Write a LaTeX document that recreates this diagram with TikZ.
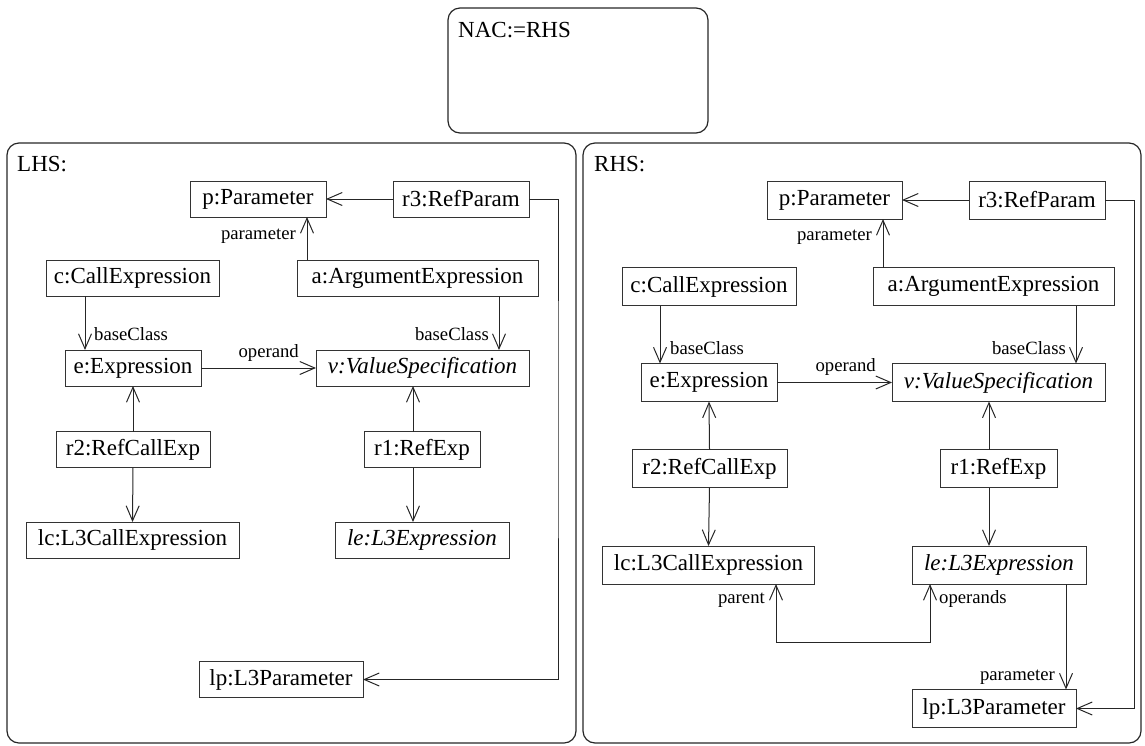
\documentclass[tikz,border=0pt]{standalone}
\usepackage{fontspec}
\setmainfont{Liberation Serif}
\usetikzlibrary{arrows.meta}

\tikzset{
  obj/.style={draw=black!80, line width=1pt, inner sep=0pt, outer sep=0pt,
    font=\fontsize{23}{27}\selectfont},
  objL/.style={obj, minimum height=36pt},
  objR/.style={obj, minimum height=38pt},
  panel/.style={draw=black!85, line width=1.2pt, rounded corners=12pt},
  link/.style={draw=black!85, line width=1pt,
    -{Straight Barb[length=15pt,width=13pt]}},
  duallink/.style={draw=black!85, line width=1pt,
    {Straight Barb[length=15pt,width=13pt]}-{Straight Barb[length=15pt,width=13pt]}},
  role/.style={font=\fontsize{18.7}{22}\selectfont, inner sep=0pt},
  paneltitle/.style={font=\fontsize{23}{27}\selectfont, inner sep=0pt, anchor=base west},
}

\begin{document}
\begin{tikzpicture}[x=1pt,y=-1pt]
\useasboundingbox (0,0) rectangle (1145,745);

% ---------- panels ----------
\draw[panel] (448,8) rectangle (708,133);
\node[paneltitle] (nacT) at (458,37) {NAC:=RHS};
\draw[panel] (7,143) rectangle (576,743);
\node[paneltitle] (lhsT) at (17,171) {LHS:};
\draw[panel] (583,143) rectangle (1141,743);
\node[paneltitle] (rhsT) at (594,171) {RHS:};

% ---------- left-hand side ----------
\node[objL, minimum width=136pt] (pL)  at (258,199)   {p:Parameter};
\node[objL, minimum width=136pt] (r3L) at (461,199)   {r3:RefParam};
\node[objL, minimum width=173pt] (cL)  at (132.5,278) {c:CallExpression};
\node[objL, minimum width=241pt] (aL)  at (417.5,278) {a:ArgumentExpression};
\node[objL, minimum width=136pt] (eL)  at (133,368)   {e:Expression};
\node[objL, minimum width=213pt] (vL)  at (422.5,368) {\itshape v:ValueSpecification};
\node[objL, minimum width=154pt] (r2L) at (133,449.5) {r2:RefCallExp};
\node[objL, minimum width=116pt] (r1L) at (422,449.5) {r1:RefExp};
\node[objL, minimum width=213pt] (lcL) at (132.5,540) {lc:L3CallExpression};
\node[objL, minimum width=174pt] (leL) at (422,540)   {\itshape le:L3Expression};
\node[objL, minimum width=164pt] (lpL) at (281,679.5) {lp:L3Parameter};

% connector columns
\coordinate (apL) at (307,0);
\coordinate (ceL) at (85,0);
\coordinate (avL) at (499,0);
\coordinate (r1xL) at (413,0);
\coordinate (r3xL) at (558,400);

\draw[link] (r3L.west) -- (pL.east);
\draw[link] (aL.north -| apL) -- (pL.south -| apL);
\draw[link] (cL.south -| ceL) -- (eL.north -| ceL);
\draw[link] (aL.south -| avL) -- (vL.north -| avL);
\draw[link] (eL.east) -- (vL.west);
\draw[link] (r2L.north) -- (eL.south);
\draw[link] (r1L.north -| r1xL) -- (vL.south -| r1xL);
\draw[link] (r2L.south) -- (lcL.north);
\draw[link] (r1L.south -| r1xL) -- (leL.north -| r1xL);
\draw[link] (r3L.east) -| (r3xL) |- (lpL.east);

\node[role, anchor=base east] (lpar1) at (296,239) {parameter};
\node[role, anchor=base west] (lbc1)  at (94,340)  {baseClass};
\node[role, anchor=base east] (lbc2)  at (489,340) {baseClass};
\node[role, anchor=base east] (lop)   at (299,357) {operand};

% ---------- right-hand side ----------
\node[objR, minimum width=135pt] (pR)  at (834.5,200)  {p:Parameter};
\node[objR, minimum width=136pt] (r3R) at (1037,200)   {r3:RefParam};
\node[objR, minimum width=174pt] (cR)  at (709,286.5)  {c:CallExpression};
\node[objR, minimum width=241pt] (aR)  at (993.5,286.5) {a:ArgumentExpression};
\node[objR, minimum width=136pt] (eR)  at (709,382.5)  {e:Expression};
\node[objR, minimum width=213pt] (vR)  at (998.5,382.5) {\itshape v:ValueSpecification};
\node[objR, minimum width=155pt] (r2R) at (709.5,468.5) {r2:RefCallExp};
\node[objR, minimum width=117pt] (r1R) at (998.5,468.5) {r1:RefExp};
\node[objR, minimum width=212pt] (lcR) at (708.5,565)  {lc:L3CallExpression};
\node[objR, minimum width=174pt] (leR) at (999,565)    {\itshape le:L3Expression};
\node[objR, minimum width=164pt] (lpR) at (994,708.5)  {lp:L3Parameter};

\coordinate (apR) at (883,0);
\coordinate (ceR) at (660,0);
\coordinate (avR) at (1076,0);
\coordinate (r1xR) at (989,0);
\coordinate (r3xR) at (1134,400);
\coordinate (parR) at (776,642);
\coordinate (opsR) at (930,642);
\coordinate (lpxR) at (1066,0);

\draw[link] (r3R.west) -- (pR.east);
\draw[link] (aR.north -| apR) -- (pR.south -| apR);
\draw[link] (cR.south -| ceR) -- (eR.north -| ceR);
\draw[link] (aR.south -| avR) -- (vR.north -| avR);
\draw[link] (eR.east) -- (vR.west);
\draw[link] (r2R.north) -- (eR.south);
\draw[link] (r1R.north -| r1xR) -- (vR.south -| r1xR);
\draw[link] (r2R.south) -- (lcR.north);
\draw[link] (r1R.south -| r1xR) -- (leR.north -| r1xR);
\draw[duallink] (lcR.south -| parR) -- (parR) -- (opsR) -- (leR.south -| opsR);
\draw[link] (leR.south -| lpxR) -- (lpR.north -| lpxR);
\draw[link] (r3R.east) -| (r3xR) |- (lpR.east);

\node[role, anchor=base east] (rpar1) at (872,240)  {parameter};
\node[role, anchor=base west] (rbc1)  at (670,354)  {baseClass};
\node[role, anchor=base east] (rbc2)  at (1066,354) {baseClass};
\node[role, anchor=base east] (rop)   at (876,371)  {operand};
\node[role, anchor=base east] (rpa)   at (765,603)  {parent};
\node[role, anchor=base west] (rops)  at (939,603)  {operands};
\node[role, anchor=base east] (rpar2) at (1055,680) {parameter};
\end{tikzpicture}
\end{document}
